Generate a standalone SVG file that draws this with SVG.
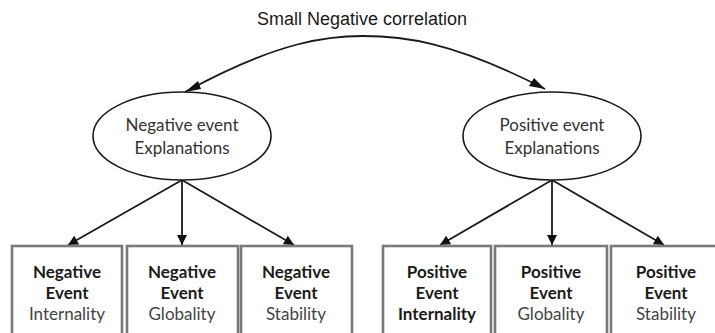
<svg xmlns="http://www.w3.org/2000/svg" width="715" height="333" viewBox="0 0 715 333">
<style>
.title{font-family:"Liberation Sans",Arial,sans-serif;font-size:18px;fill:#1a1a1a;text-anchor:middle}
.ell{fill:#fff;stroke:#1a1a1a;stroke-width:1.6}
.etxt{font-family:Lato,"Open Sans",sans-serif;font-size:17px;fill:#333;text-anchor:middle}
.box{fill:#fff;stroke:#7a7a7a;stroke-width:2.6}
.b{font-family:Lato,"Open Sans",sans-serif;font-size:17px;font-weight:bold;fill:#1a1a1a;text-anchor:middle}
.r{font-family:Lato,"Open Sans",sans-serif;font-size:17px;fill:#444;text-anchor:middle}
.conn{fill:none;stroke:#1a1a1a;stroke-width:1.8}
</style>
<defs>
<marker id="ah2" viewBox="0 0 10 10" refX="10" refY="5" markerWidth="14" markerHeight="10" markerUnits="userSpaceOnUse" orient="auto">
<path d="M0,0 L10,5 L0,10 z" fill="#111"/>
</marker>
</defs>
<text id="title" class="title" x="362" y="25">Small Negative correlation</text>
<g id="connectors">
<path class="conn" d="M185,92 C280,40 330,36 363,36 C400,36 450,40 545,89"/>
<path d="M185,92 L198,81 L201,89 z" fill="#111"/>
<path d="M545,89 L529,86 L534,78 z" fill="#111"/>
<line class="conn" x1="182" y1="180" x2="68" y2="245" marker-end="url(#ah2)"/>
<line class="conn" x1="182" y1="180" x2="182" y2="245" marker-end="url(#ah2)"/>
<line class="conn" x1="182" y1="180" x2="294" y2="245" marker-end="url(#ah2)"/>
<line class="conn" x1="552" y1="180" x2="440" y2="245" marker-end="url(#ah2)"/>
<line class="conn" x1="552" y1="180" x2="552" y2="245" marker-end="url(#ah2)"/>
<line class="conn" x1="552" y1="180" x2="664" y2="245" marker-end="url(#ah2)"/>
</g>
<g id="neg-expl">
<ellipse class="ell" cx="182" cy="136" rx="89" ry="44"/>
<text class="etxt" x="182" y="131">Negative event</text>
<text class="etxt" x="182" y="154">Explanations</text>
</g>
<g id="pos-expl">
<ellipse class="ell" cx="552" cy="136" rx="89" ry="44"/>
<text class="etxt" x="552" y="131">Positive event</text>
<text class="etxt" x="552" y="154">Explanations</text>
</g>
<g id="neg-int">
<rect class="box" x="12" y="246" width="110" height="100"/>
<text class="b" x="67" y="278">Negative</text>
<text class="b" x="67" y="299">Event</text>
<text class="r" x="67" y="320">Internality</text>
</g>
<g id="neg-glob">
<rect class="box" x="127" y="246" width="111" height="100"/>
<text class="b" x="182" y="278">Negative</text>
<text class="b" x="182" y="299">Event</text>
<text class="r" x="182" y="320">Globality</text>
</g>
<g id="neg-stab">
<rect class="box" x="241" y="246" width="111" height="100"/>
<text class="b" x="296" y="278">Negative</text>
<text class="b" x="296" y="299">Event</text>
<text class="r" x="296" y="320">Stability</text>
</g>
<g id="pos-int">
<rect class="box" x="383" y="246" width="108" height="100"/>
<text class="b" x="437" y="278">Positive</text>
<text class="b" x="437" y="299">Event</text>
<text class="b" x="437" y="320">Internality</text>
</g>
<g id="pos-glob">
<rect class="box" x="495" y="246" width="112" height="100"/>
<text class="b" x="551" y="278">Positive</text>
<text class="b" x="551" y="299">Event</text>
<text class="r" x="551" y="320">Globality</text>
</g>
<g id="pos-stab">
<rect class="box" x="611" y="246" width="112" height="100"/>
<text class="b" x="666" y="278">Positive</text>
<text class="b" x="666" y="299">Event</text>
<text class="r" x="666" y="320">Stability</text>
</g>
</svg>
